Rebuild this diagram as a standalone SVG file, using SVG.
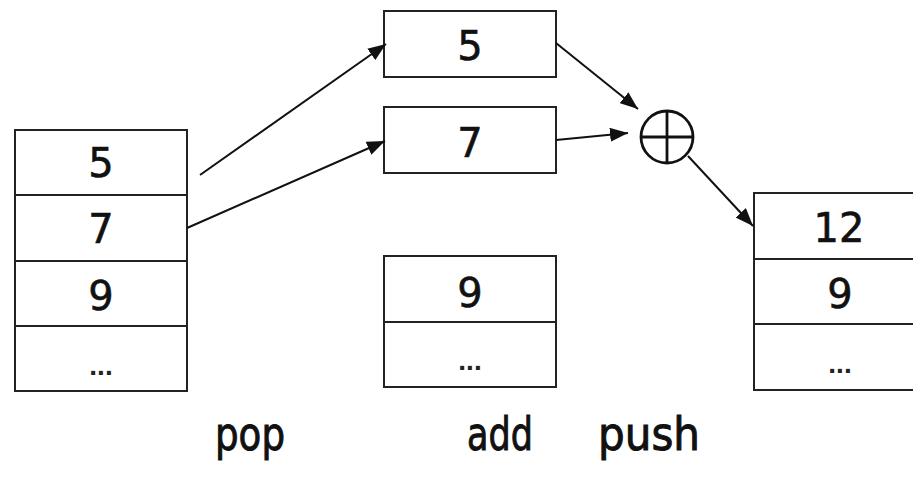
<svg xmlns="http://www.w3.org/2000/svg" width="913" height="478" viewBox="0 0 913 478">
  <style>
    .cell { fill: #fff; stroke: #222; stroke-width: 2; }
    .num { font-family: "DejaVu Sans", sans-serif; font-size: 40px; fill: #111; stroke: #111; stroke-width: 0.6; text-anchor: middle; }
    .dots { font-family: "Liberation Sans", Arial, sans-serif; font-size: 28px; font-weight: bold; fill: #222; text-anchor: middle; }
    .label { font-family: "DejaVu Sans", sans-serif; font-size: 46px; fill: #111; stroke: #111; stroke-width: 1; }
    .edge { stroke: #111; stroke-width: 2; fill: none; marker-end: url(#head); }
  </style>
  <defs>
    <marker id="head" viewBox="0 0 18 14" refX="18" refY="7" markerWidth="18" markerHeight="14" markerUnits="userSpaceOnUse" orient="auto">
      <path d="M0,0 L18,7 L0,14 Z" fill="#111"/>
    </marker>
  </defs>
  <rect width="913" height="478" fill="#fff"/>

  <!-- stack before pop -->
  <g id="stack-before">
    <rect class="cell" x="15" y="130" width="172" height="65"/>
    <rect class="cell" x="15" y="195" width="172" height="66"/>
    <rect class="cell" x="15" y="261" width="172" height="65"/>
    <rect class="cell" x="15" y="326" width="172" height="65"/>
    <text class="num" x="101" y="177">5</text>
    <text class="num" x="101" y="243">7</text>
    <text class="num" x="101" y="310">9</text>
    <text class="dots" x="101" y="375">...</text>
  </g>

  <!-- popped operands -->
  <g id="operand-a">
    <rect class="cell" x="384" y="11" width="172" height="66"/>
    <text class="num" x="470" y="60">5</text>
  </g>
  <g id="operand-b">
    <rect class="cell" x="384" y="107" width="172" height="66"/>
    <text class="num" x="470" y="157">7</text>
  </g>

  <!-- remaining stack -->
  <g id="stack-rest">
    <rect class="cell" x="384" y="256" width="172" height="66"/>
    <rect class="cell" x="384" y="322" width="172" height="65"/>
    <text class="num" x="470" y="307">9</text>
    <text class="dots" x="470" y="370">...</text>
  </g>

  <!-- adder -->
  <g id="adder">
    <circle cx="667" cy="137" r="26" fill="#fff" stroke="#111" stroke-width="2.8"/>
    <line x1="641" y1="137" x2="693" y2="137" stroke="#111" stroke-width="2.8"/>
    <line x1="667" y1="111" x2="667" y2="163" stroke="#111" stroke-width="2.8"/>
  </g>

  <!-- stack after push -->
  <g id="stack-after">
    <rect class="cell" x="754" y="193" width="172" height="66"/>
    <rect class="cell" x="754" y="259" width="172" height="65"/>
    <rect class="cell" x="754" y="324" width="172" height="66"/>
    <text class="num" x="839" y="242">12</text>
    <text class="num" x="840" y="308">9</text>
    <text class="dots" x="840" y="373">...</text>
  </g>

  <!-- connectors -->
  <g id="connectors">
    <line class="edge" x1="200" y1="175" x2="386" y2="44"/>
    <line class="edge" x1="187" y1="228" x2="385" y2="141"/>
    <line class="edge" x1="556" y1="43" x2="638" y2="109"/>
    <line class="edge" x1="556" y1="140" x2="628" y2="133"/>
    <line class="edge" x1="688" y1="156" x2="753" y2="226"/>
  </g>

  <!-- operation labels -->
  <g id="labels">
    <text class="label" x="215" y="450" textLength="70" lengthAdjust="spacingAndGlyphs">pop</text>
    <text class="label" x="467" y="450" textLength="66" lengthAdjust="spacingAndGlyphs">add</text>
    <text class="label" x="598" y="450" textLength="102" lengthAdjust="spacingAndGlyphs">push</text>
  </g>
</svg>
